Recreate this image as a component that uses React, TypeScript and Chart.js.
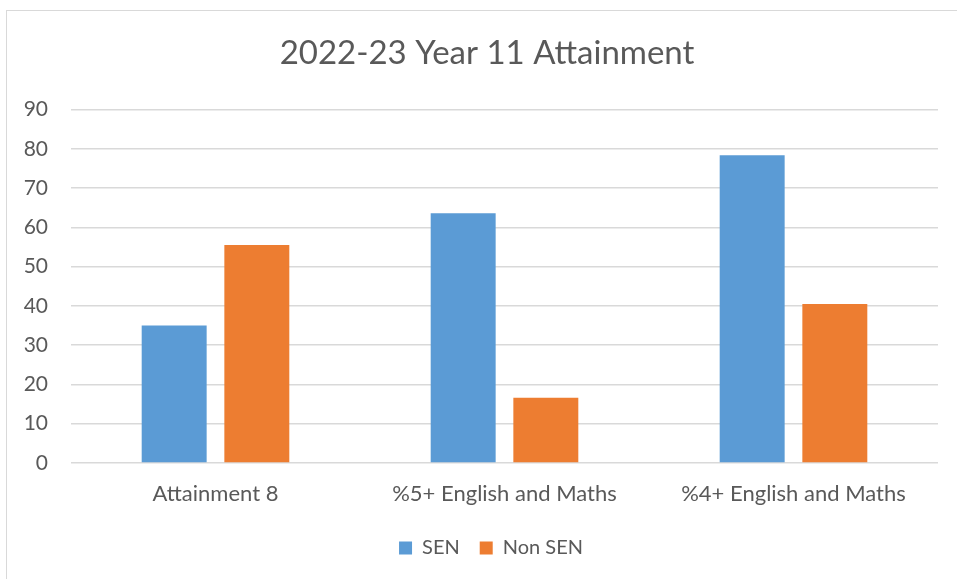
import React, { useEffect, useRef } from "react";
import { Chart, registerables } from "chart.js";

Chart.register(...registerables);

const chartTitle = "2022-23 Year 11 Attainment";
const categories = ["Attainment 8", "%5+ English and Maths", "%4+ English and Maths"];
const senValues = [35, 63.6, 78.4];
const nonSenValues = [55.5, 16.6, 40.5];
const seriesNames = ["SEN", "Non SEN"];
const yMin = 0;
const yMax = 90;
const yStep = 10;

const FONT = "Lato, 'Open Sans', 'Noto Sans', sans-serif";
const TEXT = "#595959";

// Re-centre the title and legend boxes the way the original's chart frame does.
const frameCentering = {
  id: "frameCentering",
  afterLayout(chart: any) {
    const t = chart.titleBlock;
    if (t) {
      t.left = 36;
      t.right = 938;
    }
    const l = chart.legend;
    if (l) {
      l.left = 44;
      l.right = 938;
    }
  },
};

export default function App() {
  const ref = useRef<HTMLCanvasElement | null>(null);

  useEffect(() => {
    if (!ref.current) return;
    const chart = new Chart(ref.current, {
      type: "bar",
      data: {
        labels: categories,
        datasets: [
          {
            label: seriesNames[0],
            data: senValues,
            backgroundColor: "#5B9BD5",
            borderWidth: 0,
            categoryPercentage: 0.572,
            barPercentage: 0.786,
          },
          {
            label: seriesNames[1],
            data: nonSenValues,
            backgroundColor: "#ED7D31",
            borderWidth: 0,
            categoryPercentage: 0.572,
            barPercentage: 0.786,
          },
        ],
      },
      options: {
        animation: false,
        responsive: false,
        devicePixelRatio: 1,
        layout: { padding: { left: 0, right: 19, top: 14, bottom: 11 } },
        plugins: {
          title: {
            display: true,
            text: chartTitle,
            color: TEXT,
            font: { family: FONT, size: 33, weight: "normal" },
            padding: { top: 20, bottom: 36 },
          },
          legend: {
            position: "bottom",
            labels: {
              color: TEXT,
              font: { family: FONT, size: 20 },
              boxWidth: 13,
              boxHeight: 13,
              padding: 20,
            },
          },
          tooltip: { enabled: false },
        },
        scales: {
          x: {
            grid: { display: false, drawTicks: false },
            border: { display: false },
            ticks: {
              color: TEXT,
              font: { family: FONT, size: 22 },
              padding: 18,
              maxRotation: 0,
              autoSkip: false,
            },
            afterFit: (scale: any) => {
              scale.height = 55;
            },
          },
          y: {
            min: yMin,
            max: yMax,
            grid: { color: "#D9D9D9", lineWidth: 1.5, drawTicks: false },
            border: { display: false },
            ticks: {
              stepSize: yStep,
              color: TEXT,
              font: { family: FONT, size: 21 },
              padding: 23,
            },
            afterFit: (scale: any) => {
              scale.width = 71;
            },
          },
        },
      },
      plugins: [frameCentering],
    });
    return () => chart.destroy();
  }, []);

  return (
    <div
      style={{
        position: "fixed",
        left: 0,
        top: 0,
        width: 957,
        height: 579,
        overflow: "hidden",
        background: "#ffffff",
      }}
    >
      <div
        style={{
          position: "absolute",
          left: 6,
          top: 10,
          width: 1200,
          height: 1200,
          borderTop: "1px solid #D9D9D9",
          borderLeft: "1px solid #D9D9D9",
        }}
      />
      <canvas
        ref={ref}
        width={957}
        height={579}
        style={{ position: "absolute", left: 0, top: 0, width: 957, height: 579 }}
      />
    </div>
  );
}
